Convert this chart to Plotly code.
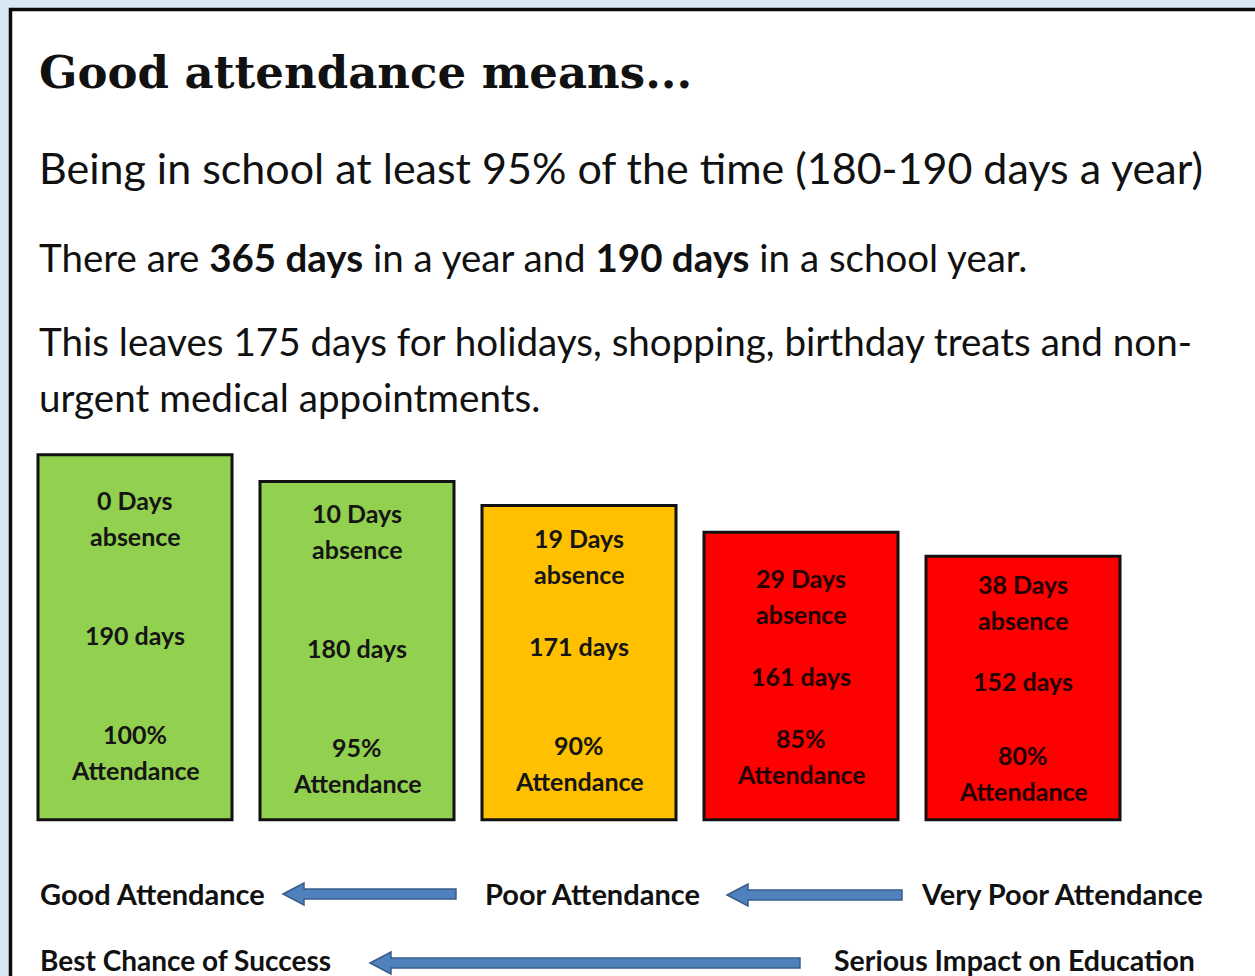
import plotly.graph_objects as go

# ---- data ----
categories = ["0 days absence", "10 days absence", "19 days absence", "29 days absence", "38 days absence"]
absence_days = [0, 10, 19, 29, 38]
attendance_days = [190, 180, 171, 161, 152]
attendance_pct = [100, 95, 90, 85, 80]
bar_colors = ["#92d050", "#92d050", "#ffc000", "#ff0000", "#ff0000"]

# ---- layout constants ----
W, H = 1255, 976
ML, MR, MT, MB = 24, 121, 428, 147
Y_RANGE = [50, 200]
BASE = 53.5
PLOT_W = W - ML - MR
PLOT_H = H - MT - MB

def px(x):
    return (x - ML) / PLOT_W

def py(y):
    return (H - MB - y) / PLOT_H

def py_to_data(y):
    return Y_RANGE[0] + (H - MB - y) / PLOT_H * (Y_RANGE[1] - Y_RANGE[0])

# label group centre (pixel rows) inside each bar
top_group_y = [518, 531, 556, 595.5, 601.5]
mid_group_y = [635, 648, 646, 676, 681]
bot_group_y = [752, 765, 763, 756, 773]
LINE_HALF = 18

SANS = "Lato"
fig = go.Figure()
fig.add_trace(go.Bar(
    x=categories,
    y=[d - BASE for d in attendance_days],
    base=[BASE] * len(attendance_days),
    marker=dict(color=bar_colors, line=dict(color="#111111", width=3)),
    width=0.874,
    hoverinfo="skip",
))

ann = []
text_colors = ["#151515", "#151515", "#151515", "#220000", "#220000"]
for i, c in enumerate(categories):
    font_bar = dict(family=SANS, size=25, color=text_colors[i])
    lines = [
        (top_group_y[i] - LINE_HALF, f"<b>{absence_days[i]} Days</b>"),
        (top_group_y[i] + LINE_HALF, "<b>absence</b>"),
        (mid_group_y[i], f"<b>{attendance_days[i]} days</b>"),
        (bot_group_y[i] - LINE_HALF, f"<b>{attendance_pct[i]}%</b>"),
        (bot_group_y[i] + LINE_HALF, "<b>Attendance</b>"),
    ]
    for yy, t in lines:
        ann.append(dict(x=c, y=py_to_data(yy), xref="x", yref="y", text=t,
                        showarrow=False, font=font_bar, xanchor="center", yanchor="middle"))

def txt(x, y, t, size, family=SANS, anchor="left"):
    ann.append(dict(x=px(x), y=py(y), xref="paper", yref="paper", text=t, showarrow=False,
                    font=dict(family=family, size=size, color="#111111"),
                    xanchor=anchor, yanchor="middle"))

txt(37, 72, "<b>Good attendance means...</b>", 45, family="DejaVu Serif")
txt(37, 167, "Being in school at least 95% of the time (180-190 days a year)", 43)
txt(37, 257, "There are <b>365 days</b> in a year and <b>190 days</b> in a school year.", 38.5)
txt(37, 341, "This leaves 175 days for holidays, shopping, birthday treats and non-", 38.6)
txt(37, 397, "urgent medical appointments.", 38.6)

txt(38, 893, "<b>Good Attendance</b>", 29)
txt(483, 893, "<b>Poor Attendance</b>", 29)
txt(919, 893, "<b>Very Poor Attendance</b>", 29)
txt(38, 960, "<b>Best Chance of Success</b>", 28)
txt(832, 960, "<b>Serious Impact on Education</b>", 28.5)

def arrow_path(tip, end, yc, half_shaft=5, half_head=11, head_len=21):
    pts = [(tip, yc), (tip + head_len, yc - half_head), (tip + head_len, yc - half_shaft),
           (end, yc - half_shaft), (end, yc + half_shaft), (tip + head_len, yc + half_shaft),
           (tip + head_len, yc + half_head)]
    return "M " + " L ".join(f"{px(a):.5f},{py(b):.5f}" for a, b in pts) + " Z"

shapes = [
    dict(type="rect", xref="paper", yref="paper", x0=px(10.5), x1=px(1300), y0=py(9.5), y1=py(1000),
         fillcolor="white", line=dict(color="#0a0a0a", width=3.5), layer="below"),
]
for tip, end, yc in [(283, 456, 894), (727, 902, 895), (370, 800, 963)]:
    shapes.append(dict(type="path", xref="paper", yref="paper", path=arrow_path(tip, end, yc),
                       fillcolor="#4f81bd", line=dict(color="#385d8a", width=1.5), layer="above"))

fig.update_layout(
    width=W, height=H,
    margin=dict(l=ML, r=MR, t=MT, b=MB),
    paper_bgcolor="#d9e6f4",
    plot_bgcolor="rgba(0,0,0,0)",
    showlegend=False,
    xaxis=dict(visible=False, range=[-0.5, 4.5]),
    yaxis=dict(visible=False, range=Y_RANGE),
    annotations=ann,
    shapes=shapes,
)

fig.write_html("out.html", config={"displayModeBar": False},
               post_script="document.body.style.margin='0';document.body.style.overflow='hidden';")
